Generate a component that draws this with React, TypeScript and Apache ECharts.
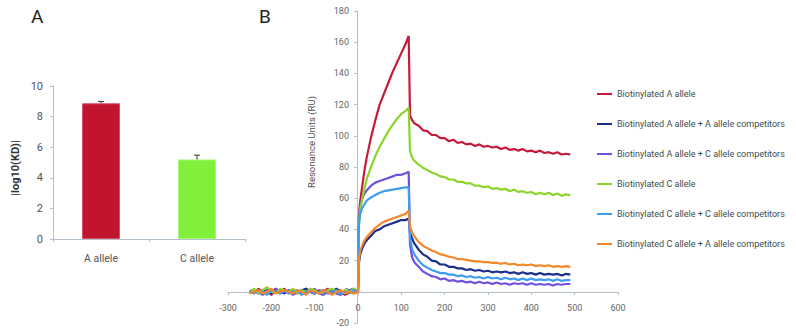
import React, { useEffect, useRef } from "react";
import * as echarts from "echarts";

// ---------- Panel A data ----------
const alleleCategories = ["A allele", "C allele"];
const alleleValues = [8.87, 5.2];
const alleleErrors = [0.12, 0.28];

// ---------- Panel B data ----------
const timeBase = [-250, -240, -230, -220, -210, -200, -190, -180, -170, -160, -150, -140, -130, -120, -110, -100, -90, -80, -70, -60, -50, -40, -30, -20, -10, 0];
const timeAssoc = [2, 5, 10, 15, 20, 30, 40, 50, 60, 70, 80, 90, 100, 110, 117];
const timeDiss = [120, 125, 130, 140, 150, 160, 170, 180, 190, 200, 210, 220, 230, 240, 250, 260, 270, 280, 290, 300, 310, 320, 330, 340, 350, 360, 370, 380, 390, 400, 410, 420, 430, 440, 450, 460, 470, 480, 490];
const times = [...timeBase, ...timeAssoc, ...timeDiss];

const seriesNames = [
  "Biotinylated A allele",
  "Biotinylated A allele + A allele competitors",
  "Biotinylated A allele + C allele competitors",
  "Biotinylated C allele",
  "Biotinylated C allele + C allele competitors",
  "Biotinylated C allele + A allele competitors",
];
const seriesColors = ["#C41A3C", "#1C2F8A", "#7050E0", "#8CD42A", "#3C9CF2", "#F5872A"];

const ruAA = [
  1, -1, 2, 0, 1, -2, 1, 0, 2, -1, 0, 1, -1, 2, 0, -1, 1, 0, 2, -1, 0, 1, -2, 0, 1, 0,
  48, 58, 68, 78, 86, 99, 110, 120, 127, 134, 141, 147, 153, 159, 164,
  113, 110, 108, 106.5, 103.5, 103, 100.5, 100.5, 98.5, 98.5, 96.5, 97.5, 95.5, 96, 94.5, 95, 93.5, 94.5, 93, 93.5, 92.5, 93, 91.5, 92.5, 91, 91.5, 90.5, 91.5, 90, 90.5, 89.5, 90.5, 89, 89.5, 88.5, 89.5, 88, 88.5, 88,
];
const ruAwithA = [
  0, 1, -1, 0, 1, -1, 2, 0, -1, 1, 0, -1, 1, 2, 0, -1, 0, 1, -1, 0, 2, 0, -1, 1, 2, 0,
  18, 24, 28, 31, 33, 36, 39, 40, 42, 43, 44, 45, 46, 46, 47,
  38, 34, 31, 27, 24, 22.5, 20, 19.5, 17.5, 17.5, 16, 16, 15, 15, 14, 14.5, 13.5, 14, 13, 13.5, 12.5, 13, 12.5, 13, 12, 12.5, 11.5, 12.5, 11.5, 12, 11, 12, 11, 11.5, 11, 11.5, 10.5, 11.5, 11,
];
const ruAwithC = [
  -1, 1, 0, -2, 1, 0, 2, -1, 0, 1, -2, 0, 1, -1, 0, 2, -1, -2, 0, 1, -1, -2, 0, 1, -1, 0,
  48, 55, 60, 63, 65, 68, 70, 71, 72, 73, 74, 75, 75, 76, 77,
  30, 22, 19, 16, 13, 11.5, 10, 9.5, 8, 8.5, 7, 7.5, 6.5, 7, 6, 6.5, 5.5, 6.5, 5.5, 6, 5, 6, 5, 5.5, 4.5, 5.5, 5, 5.5, 4.5, 5.5, 4.5, 5, 4.5, 5, 4, 5, 4.5, 5, 5,
];
const ruCC = [
  0, 2, -1, 1, 3, 0, -1, 2, 1, 0, 2, -1, 1, 0, 2, 1, -1, 0, 1, 2, 0, -1, 1, 0, 2, 0,
  45, 52, 60, 66, 72, 80, 87, 93, 98, 103, 107, 111, 114, 116, 118,
  90, 86, 84, 81.5, 79.5, 78, 76.5, 75.5, 74, 73.5, 72, 72, 70.5, 70.5, 69.5, 69.5, 68, 68, 67, 67.5, 66, 66.5, 65.5, 66, 64.5, 65.5, 64, 64.5, 63.5, 64, 62.5, 63.5, 62.5, 63.5, 62, 63, 61.5, 62.5, 62,
];
const ruCwithC = [
  0, -1, 1, 0, -2, 1, 0, -1, 1, -1, 0, 1, -2, 0, 1, -1, 0, 1, -1, 0, 1, -1, 0, -1, 1, 0,
  42, 50, 54, 56, 58.5, 60.5, 62, 63.5, 64.5, 65, 65.5, 66, 66.5, 67, 67,
  35, 27, 24, 20, 17, 15.5, 14, 13, 12, 12, 11, 11, 10, 10.5, 9.5, 10, 9, 9.5, 8.5, 9.5, 8.5, 9, 8, 9, 8, 8.5, 7.5, 8.5, 7.5, 8.5, 7.5, 8, 7.5, 8, 7, 8, 7, 7.5, 7.5,
];
const ruCwithA = [
  -1, 0, 1, -1, 0, 2, -1, 0, 1, 0, -1, 1, 0, -2, 1, 0, -1, 1, 0, -2, 0, 1, -1, 0, -1, 0,
  20, 26, 30, 33, 35, 38, 41, 43, 45, 46, 47, 48, 49, 50, 52,
  42, 38, 35.5, 32, 29.5, 28, 26.5, 25.5, 24, 23.5, 22.5, 22, 21, 21, 20.5, 20, 19.5, 19.5, 19, 19, 18.5, 18.5, 18, 18.5, 17.5, 18, 17, 17.5, 17, 17.5, 16.5, 17, 16.5, 17, 16, 16.5, 16, 16.5, 16,
];
const seriesValues = [ruAA, ruAwithA, ruAwithC, ruCC, ruCwithC, ruCwithA];

const FONT = "Roboto, 'Noto Sans', sans-serif";
const AXIS_COLOR = "#b4c0cc";

export default function App() {
  const ref = useRef<HTMLDivElement>(null);

  useEffect(() => {
    if (!ref.current) return;
    const chart = echarts.init(ref.current, null, { renderer: "svg" });

    const lineSeries = seriesNames.map((name, i) => ({
      name,
      type: "line",
      xAxisIndex: 1,
      yAxisIndex: 1,
      showSymbol: false,
      symbol: "none",
      data: times.map((t, k) => [t, seriesValues[i][k]]),
      lineStyle: { color: seriesColors[i], width: 2.2 },
      itemStyle: { color: seriesColors[i] },
      emphasis: { disabled: true },
    }));

    const option: any = {
      animation: false,
      textStyle: { fontFamily: FONT },
      grid: [
        { left: 53, top: 86, width: 192, height: 153 },
        { left: 228, top: 11, width: 390, height: 312 },
      ],
      xAxis: [
        {
          type: "category",
          gridIndex: 0,
          data: alleleCategories,
          axisLine: { lineStyle: { color: AXIS_COLOR } },
          axisTick: { show: true, length: 3, lineStyle: { color: AXIS_COLOR } },
          axisLabel: { color: "#555", fontSize: 10.5, margin: 14, fontFamily: FONT },
        },
        {
          type: "value",
          gridIndex: 1,
          min: -300,
          max: 600,
          interval: 100,
          position: "bottom",
          offset: -31,
          splitLine: { show: false },
          axisLine: { onZero: false, lineStyle: { color: AXIS_COLOR } },
          axisTick: { show: true, length: 3, lineStyle: { color: AXIS_COLOR } },
          axisLabel: { color: "#666", fontSize: 9, margin: 11, fontFamily: FONT },
        },
      ],
      yAxis: [
        {
          type: "value",
          gridIndex: 0,
          min: 0,
          max: 10,
          interval: 2,
          splitLine: { show: false },
          axisLine: { show: true, lineStyle: { color: AXIS_COLOR } },
          axisTick: { show: true, length: 3, lineStyle: { color: AXIS_COLOR } },
          axisLabel: { color: "#555", fontSize: 11, margin: 10, fontFamily: FONT },
        },
        {
          type: "value",
          gridIndex: 1,
          min: -20,
          max: 180,
          interval: 20,
          position: "left",
          offset: -129,
          splitLine: { show: false },
          axisLine: { show: true, onZero: false, lineStyle: { color: AXIS_COLOR } },
          axisTick: { show: true, length: 3, lineStyle: { color: AXIS_COLOR } },
          axisLabel: { color: "#666", fontSize: 9, margin: 8, fontFamily: FONT },
        },
      ],
      legend: {
        orient: "vertical",
        left: 597,
        top: 88,
        padding: 0,
        icon: "rect",
        itemWidth: 15,
        itemHeight: 2,
        itemGap: 18,
        selectedMode: false,
        data: seriesNames,
        textStyle: { color: "#3b4d4d", fontSize: 9, lineHeight: 12, fontFamily: FONT },
      },
      series: [
        {
          type: "bar",
          xAxisIndex: 0,
          yAxisIndex: 0,
          barWidth: 38,
          data: alleleValues.map((v, i) => ({
            value: v,
            itemStyle: {
              color: i === 0 ? "#C0142F" : "#80F03A",
              borderColor: i === 0 ? "#D8506A" : "#A8F878",
              borderWidth: 1,
            },
          })),
          emphasis: { disabled: true },
        },
        {
          type: "custom",
          xAxisIndex: 0,
          yAxisIndex: 0,
          data: alleleValues.map((v, i) => [i, v, alleleErrors[i]]),
          renderItem: (params: any, api: any) => {
            const idx = api.value(0);
            const v = api.value(1);
            const e = api.value(2);
            const top = api.coord([idx, v + e]);
            const mid = api.coord([idx, v]);
            return {
              type: "group",
              children: [
                {
                  type: "line",
                  shape: { x1: top[0], y1: top[1], x2: mid[0], y2: mid[1] },
                  style: { stroke: "#333", lineWidth: 1 },
                },
                {
                  type: "line",
                  shape: { x1: top[0] - 3, y1: top[1], x2: top[0] + 3, y2: top[1] },
                  style: { stroke: "#333", lineWidth: 1 },
                },
              ],
            };
          },
          z: 5,
        },
        ...lineSeries,
      ],
      graphic: [
        {
          type: "text",
          left: 31,
          top: 7,
          style: { text: "A", fontSize: 19, fill: "#222", fontFamily: FONT },
        },
        {
          type: "text",
          left: 259,
          top: 7,
          style: { text: "B", fontSize: 19, fill: "#222", fontFamily: FONT },
        },
        {
          type: "text",
          x: 15,
          y: 168,
          rotation: Math.PI / 2,
          style: {
            text: "|log10(KD)|",
            fontSize: 11,
            fontWeight: "bold",
            fill: "#333",
            align: "center",
            verticalAlign: "middle",
            fontFamily: FONT,
          },
        },
        {
          type: "text",
          x: 311,
          y: 142,
          rotation: Math.PI / 2,
          style: {
            text: "Resonance Units (RU)",
            fontSize: 9.5,
            fill: "#555",
            align: "center",
            verticalAlign: "middle",
            fontFamily: FONT,
          },
        },
      ],
    };

    chart.setOption(option);
    return () => chart.dispose();
  }, []);

  return (
    <div
      ref={ref}
      style={{ position: "fixed", left: 0, top: 0, width: 796, height: 332, background: "#fff" }}
    />
  );
}
